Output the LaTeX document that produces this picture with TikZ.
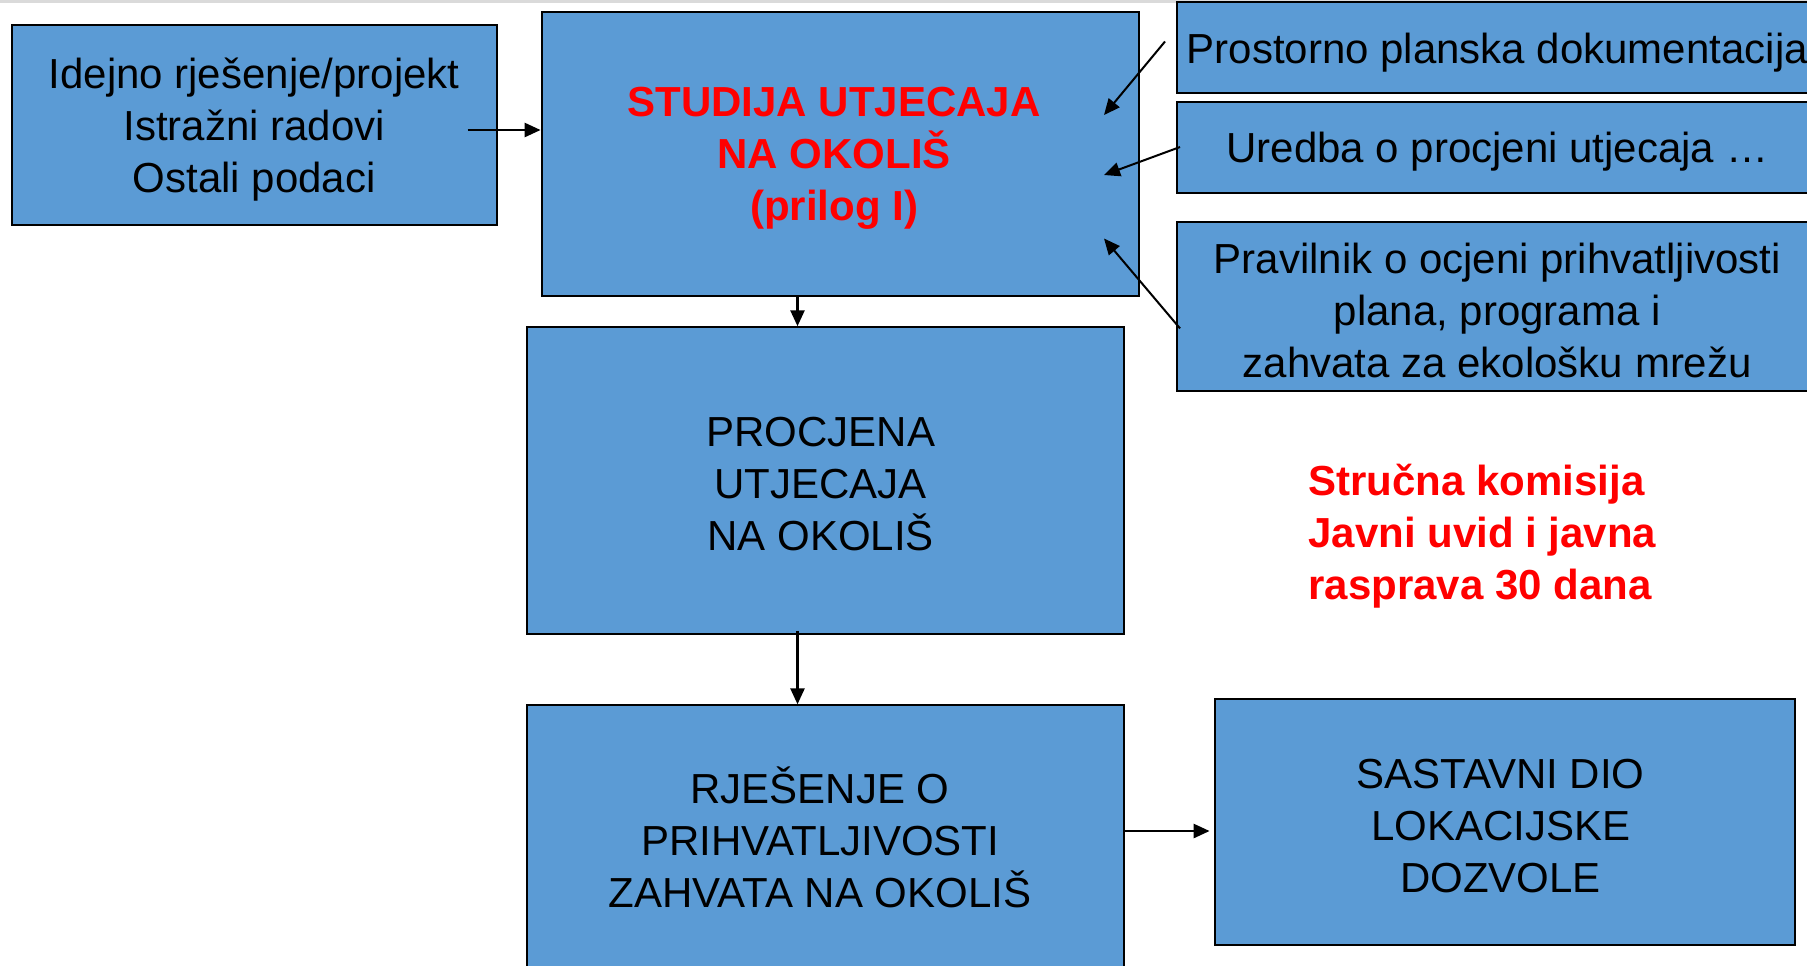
\documentclass[tikz,border=0pt]{standalone}
\usepackage{fontspec}
\setmainfont{Liberation Sans}
\usetikzlibrary{arrows.meta}
\definecolor{boxblue}{RGB}{91,155,213}
\definecolor{topgray}{RGB}{218,218,218}
\tikzset{
  box/.style={draw=black, line width=1pt, fill=boxblue, rectangle, inner sep=0pt},
  boxtext/.style={inner sep=0pt, align=center, font=\fontsize{21}{26}\selectfont},
  arr/.style={draw=black, line width=1.3pt, -{Triangle[length=8pt,width=7pt]}},
  thin arr/.style={draw=black, line width=1pt, -{Triangle[length=8pt,width=7pt]}},
  redtext/.style={text=red, font=\fontsize{21}{26}\selectfont\bfseries, align=left, inner sep=0pt}
}
\begin{document}
\begin{tikzpicture}[x=0.5pt,y=-0.5pt]
\useasboundingbox (0,0) rectangle (1807,965);
\clip (0,0) rectangle (1807,965);
\fill[white] (0,0) rectangle (1807,965);
\fill[topgray] (0,0) rectangle (1807,3);

\node[box, minimum width=242.6pt, minimum height=99.65pt] (b1) at (254.1,125) {};
\node[boxtext] (t1) at ([yshift=-2.4pt]b1.center)
  {Idejno rješenje/projekt\\Istražni radovi\\Ostali podaci};
\node[box, minimum width=298.5pt, minimum height=142.35pt] (b2) at (840.1,153.9) {};
\node[boxtext, text=red, font=\fontsize{21}{26}\selectfont\bfseries] (t2) at ([xshift=-3pt,yshift=-2.4pt]b2.center)
  {STUDIJA UTJECAJA\\NA OKOLIŠ\\(prilog I)};
\node[box, minimum width=320.7pt, minimum height=45.5pt] (pp) at (1497.3,47.8) {};
\node[boxtext] (tpp) at ([yshift=-2.4pt]pp.center) {Prostorno planska dokumentacija};
\node[box, minimum width=320.7pt, minimum height=45.5pt] (ur) at (1497.3,147) {};
\node[boxtext] (tur) at ([yshift=-2.2pt]ur.center) {Uredba o procjeni utjecaja …};
\node[box, minimum width=320.7pt, minimum height=84.15pt] (pr) at (1497.3,306.5) {};
\node[boxtext] (tpr) at ([yshift=-2.2pt]pr.center)
  {Pravilnik o ocjeni prihvatljivosti\\plana, programa i\\zahvata za ekološku mrežu};
\node[box, minimum width=298.5pt, minimum height=153.25pt] (b3) at (825.1,480.5) {};
\node[boxtext] (t3) at ([xshift=-2.2pt,yshift=-1.7pt]b3.center) {PROCJENA\\UTJECAJA\\NA OKOLIŠ};
\node[box, minimum width=298.5pt, minimum height=132.3pt] (b4) at (825.1,837.6) {};
\node[boxtext] (t4) at ([xshift=-2.5pt,yshift=0.3pt]b4.center) {RJEŠENJE O\\PRIHVATLJIVOSTI\\ZAHVATA NA OKOLIŠ};
\node[box, minimum width=290.4pt, minimum height=122.75pt] (b5) at (1505,822.2) {};
\node[boxtext] (t5) at ([xshift=-2.2pt,yshift=-1.7pt]b5.center) {SASTAVNI DIO\\LOKACIJSKE\\DOZVOLE};
\node[redtext, anchor=west] (rt) at (1308,536.5)
  {Stručna komisija\\Javni uvid i javna\\rasprava 30 dana};

\coordinate (a1) at ([xshift=-15pt,yshift=-2.5pt]b1.east);
\draw[arr] (a1) -- (a1 -| b2.west);

\coordinate (s1) at ([xshift=-5.3pt,yshift=3.15pt]pp.west);
\coordinate (e1) at ([xshift=-17.8pt,yshift=19.45pt]b2.east);
\draw[thin arr] (s1) -- (e1);
\coordinate (s2) at ([xshift=2.2pt]ur.west);
\coordinate (e2) at ([xshift=-17.8pt,yshift=-10.55pt]b2.east);
\draw[thin arr] (s2) -- (e2);
\coordinate (s3) at ([xshift=2.2pt,yshift=-10.95pt]pr.west);
\coordinate (e3) at ([xshift=-17.8pt,yshift=-42.3pt]b2.east);
\draw[thin arr] (s3) -- (e3);

\coordinate (a2) at ([xshift=-21.3pt]b2.south);
\draw[arr] (a2) -- (a2 |- b3.north);
\coordinate (a3) at ([xshift=-13.8pt,yshift=2pt]b3.south);
\draw[arr] (a3) -- (a3 |- b4.north);
\coordinate (a4) at ([yshift=3.3pt]b4.east);
\draw[arr, shorten >=2pt] (a4) -- (a4 -| b5.west);
\end{tikzpicture}
\end{document}
